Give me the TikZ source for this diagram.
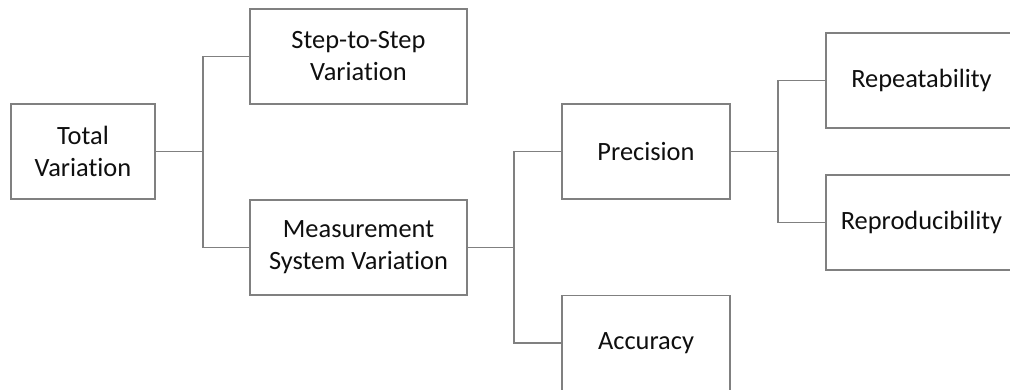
\documentclass[tikz,border=0pt]{standalone}
\usepackage{fontspec}
\setmainfont[Ligatures={NoCommon}]{Carlito}
\definecolor{linegray}{RGB}{128,128,128}
\definecolor{textcol}{RGB}{15,15,15}
\begin{document}
\begin{tikzpicture}[x=1pt,y=-1pt,
  box/.style={draw=linegray,line width=1.2pt,rectangle,inner sep=0pt,
    minimum height=95pt,align=center,text=textcol,
    font=\fontsize{26.4}{32}\selectfont},
  conn/.style={draw=linegray,line width=1.2pt}]
\useasboundingbox (0,0) rectangle (1010,390);
\clip (0,0) rectangle (1010,390);
\fill[white] (0,0) rectangle (1010,390);
\node[box,minimum width=144pt] (tot) at (83,151.5) {Total\\Variation};
\node[box,minimum width=217pt] (step) at (358.5,56.5) {Step-to-Step\\Variation};
\node[box,minimum width=217pt] (msv) at (358.5,247.5) {Measurement\\System Variation};
\node[box,minimum width=168pt] (prec) at (646,151.5) {Precision};
\node[box,minimum width=168pt] (acc) at (646,343) {Accuracy};
\node[box,minimum width=191pt] (rep) at (921.5,80.5) {Repeatability};
\node[box,minimum width=191pt] (repro) at (921.5,222.5) {Reproducibility};
\coordinate (j1) at (203,151.5);
\coordinate (j2) at (514,247.5);
\coordinate (j3) at (778,151.5);
\draw[conn] (tot.east) -- (j1);
\draw[conn] (step.west) -| (j1) |- (msv.west);
\draw[conn] (msv.east) -- (j2);
\draw[conn] (prec.west) -| (j2) |- (acc.west);
\draw[conn] (prec.east) -- (j3);
\draw[conn] (rep.west) -| (j3) |- (repro.west);
\end{tikzpicture}
\end{document}
